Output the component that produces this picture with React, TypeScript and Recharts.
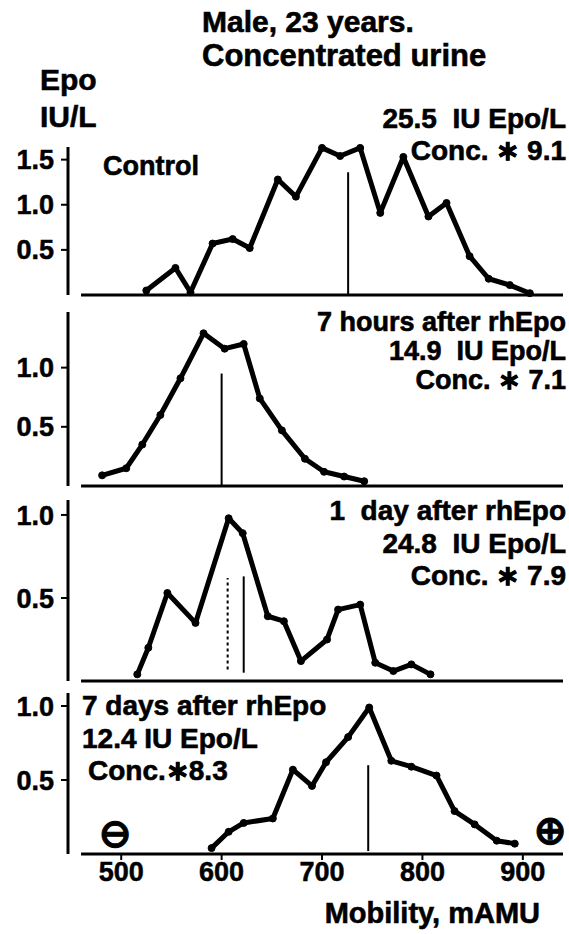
import { LineChart, Line, XAxis, YAxis, ReferenceLine } from "recharts";

// mobility (mAMU) and Epo (IU/L)
const controlMobility = [525, 554, 569, 591, 611, 628, 656, 674, 700, 718, 738, 758, 781, 806, 824, 847, 866, 887, 907];
const controlEpo = [0.05, 0.3, 0.03, 0.57, 0.62, 0.52, 1.28, 1.09, 1.63, 1.54, 1.63, 0.91, 1.53, 0.87, 1.02, 0.43, 0.18, 0.11, 0.02];

const hours7Mobility = [481, 505, 521, 539, 559, 582, 603, 622, 638, 660, 683, 702, 722, 742];
const hours7Epo = [0.09, 0.15, 0.35, 0.6, 0.91, 1.29, 1.16, 1.2, 0.74, 0.47, 0.23, 0.12, 0.08, 0.04];

const day1Mobility = [516, 527, 546, 574, 607, 621, 646, 662, 679, 705, 716, 738, 753, 771, 789, 808];
const day1Epo = [0.04, 0.2, 0.53, 0.35, 0.98, 0.89, 0.39, 0.36, 0.12, 0.25, 0.43, 0.46, 0.11, 0.06, 0.1, 0.04];

const days7Mobility = [590, 607, 622, 651, 671, 690, 704, 726, 747, 769, 789, 814, 832, 852, 874, 892];
const days7Epo = [0.04, 0.15, 0.21, 0.24, 0.57, 0.46, 0.62, 0.79, 0.99, 0.63, 0.59, 0.53, 0.29, 0.2, 0.09, 0.07];

// median markers: mobility, bottom, top, dashed
const controlMarkers = [{ mobility: 726, from: 0, to: 1.36, dashed: false }];
const hours7Markers = [{ mobility: 600, from: 0, to: 0.95, dashed: false }];
const day1Markers = [
  { mobility: 606, from: 0.07, to: 0.62, dashed: true },
  { mobility: 622, from: 0.05, to: 0.63, dashed: false },
];
const days7Markers = [{ mobility: 746, from: 0.02, to: 0.6, dashed: false }];

const xTicks = [500, 600, 700, 800, 900];
const yTicksControl = [0.5, 1.0, 1.5];
const yTicksOther = [0.5, 1.0];

const X_DOMAIN: [number, number] = [447, 940];
const FONT = '"Liberation Sans", Arial, Helvetica, sans-serif';

type Marker = { mobility: number; from: number; to: number; dashed: boolean };

const zip = (xs: number[], ys: number[]) => xs.map((x, i) => ({ mobility: x, epo: ys[i] }));

const tickStyle = { fontSize: 27, fontWeight: 700, fill: "#000", fontFamily: FONT, stroke: "#000", strokeWidth: 0.5 };

function Panel({
  data, markers, yMax, yTicks, plotTop, plotBottom, showX = false,
}: {
  data: { mobility: number; epo: number }[];
  markers: Marker[];
  yMax: number;
  yTicks: number[];
  plotTop: number;
  plotBottom: number;
  showX?: boolean;
}) {
  const padT = 8;
  const padB = 6;
  const axisH = showX ? 40 : 0;
  const h = plotBottom - plotTop + padT + padB + axisH;
  return (
    <div style={{ position: "absolute", left: 0, top: plotTop - padT }}>
      <LineChart width={569} height={h} data={data} margin={{ top: padT, right: 6, bottom: padB, left: 0 }}>
        <XAxis
          type="number"
          dataKey="mobility"
          domain={X_DOMAIN}
          ticks={xTicks}
          hide={!showX}
          height={axisH}
          axisLine={false}
          tickLine={{ stroke: "#000", strokeWidth: 2 }}
          tickSize={6}
          tickMargin={2}
          tick={tickStyle}
        />
        <YAxis
          type="number"
          domain={[0, yMax]}
          ticks={yTicks}
          width={68}
          axisLine={{ stroke: "#000", strokeWidth: 3 }}
          tickLine={{ stroke: "#000", strokeWidth: 2 }}
          tickSize={7}
          tickMargin={7}
          tickFormatter={(v: number) => v.toFixed(1)}
          tick={tickStyle}
        />
        <ReferenceLine
          segment={[{ x: 460, y: 0 }, { x: 940, y: 0 }]}
          stroke="#000"
          strokeWidth={3}
          ifOverflow="visible"
        />
        {markers.map((m, i) => (
          <ReferenceLine
            key={i}
            segment={[{ x: m.mobility, y: m.from }, { x: m.mobility, y: m.to }]}
            stroke="#000"
            strokeWidth={2}
            strokeDasharray={m.dashed ? "3 3" : undefined}
          />
        ))}
        <Line
          type="linear"
          dataKey="epo"
          stroke="#000"
          strokeWidth={5}
          strokeLinejoin="round"
          dot={{ r: 3.5, fill: "#000", stroke: "#000", strokeWidth: 1 }}
          isAnimationActive={false}
        />
      </LineChart>
    </div>
  );
}

const txt = { fontFamily: FONT, fontWeight: 700, fill: "#000", stroke: "#000", strokeWidth: 0.6, whiteSpace: "pre" as const };
const sym = { ...txt, fontFamily: '"DejaVu Sans", sans-serif', strokeWidth: 1 };

export default function App() {
  return (
    <div style={{ position: "absolute", left: 0, top: 0, width: 569, height: 934, background: "#fff" }}>
      <Panel data={zip(controlMobility, controlEpo)} markers={controlMarkers} yMax={1.64} yTicks={yTicksControl} plotTop={147} plotBottom={295} />
      <Panel data={zip(hours7Mobility, hours7Epo)} markers={hours7Markers} yMax={1.47} yTicks={yTicksOther} plotTop={312} plotBottom={486} />
      <Panel data={zip(day1Mobility, day1Epo)} markers={day1Markers} yMax={1.09} yTicks={yTicksOther} plotTop={500} plotBottom={681} />
      <Panel data={zip(days7Mobility, days7Epo)} markers={days7Markers} yMax={1.088} yTicks={yTicksOther} plotTop={693} plotBottom={854} showX />

      <svg width={569} height={934} style={{ position: "absolute", left: 0, top: 0, pointerEvents: "none" }}>
        <text x={202} y={32} fontSize={30} style={txt}>Male, 23 years.</text>
        <text x={202} y={66} fontSize={31} style={txt}>Concentrated urine</text>
        <text x={40} y={90} fontSize={30} style={txt}>Epo</text>
        <text x={40} y={127} fontSize={30} style={txt}>IU/L</text>

        <text x={103} y={175} fontSize={27} style={txt}>Control</text>
        <text x={566} y={128} fontSize={28} textAnchor="end" style={txt}>25.5  IU Epo/L</text>
        <text x={566} y={160} fontSize={28} textAnchor="end" style={txt}>Conc. ∗ 9.1</text>

        <text x={566} y={331} fontSize={27} textAnchor="end" style={txt}>7 hours after rhEpo</text>
        <text x={566} y={360} fontSize={27} textAnchor="end" style={txt}>14.9  IU Epo/L</text>
        <text x={566} y={389} fontSize={27} textAnchor="end" style={txt}>Conc. ∗ 7.1</text>

        <text x={566} y={520} fontSize={28} textAnchor="end" style={txt}>1  day after rhEpo</text>
        <text x={566} y={553} fontSize={28} textAnchor="end" style={txt}>24.8  IU Epo/L</text>
        <text x={566} y={585} fontSize={28} textAnchor="end" style={txt}>Conc. ∗ 7.9</text>

        <text x={82} y={715} fontSize={28} style={txt}>7 days after rhEpo</text>
        <text x={82} y={748} fontSize={28} style={txt}>12.4 IU Epo/L</text>
        <text x={88} y={780} fontSize={28} style={txt}>Conc.∗8.3</text>

        <text x={115} y={833} fontSize={40} textAnchor="middle" dominantBaseline="central" style={sym}>⊖</text>
        <text x={550} y={830} fontSize={40} textAnchor="middle" dominantBaseline="central" style={sym}>⊕</text>

        <text x={540} y={923} fontSize={29} textAnchor="end" style={txt}>Mobility, mAMU</text>
      </svg>
    </div>
  );
}
